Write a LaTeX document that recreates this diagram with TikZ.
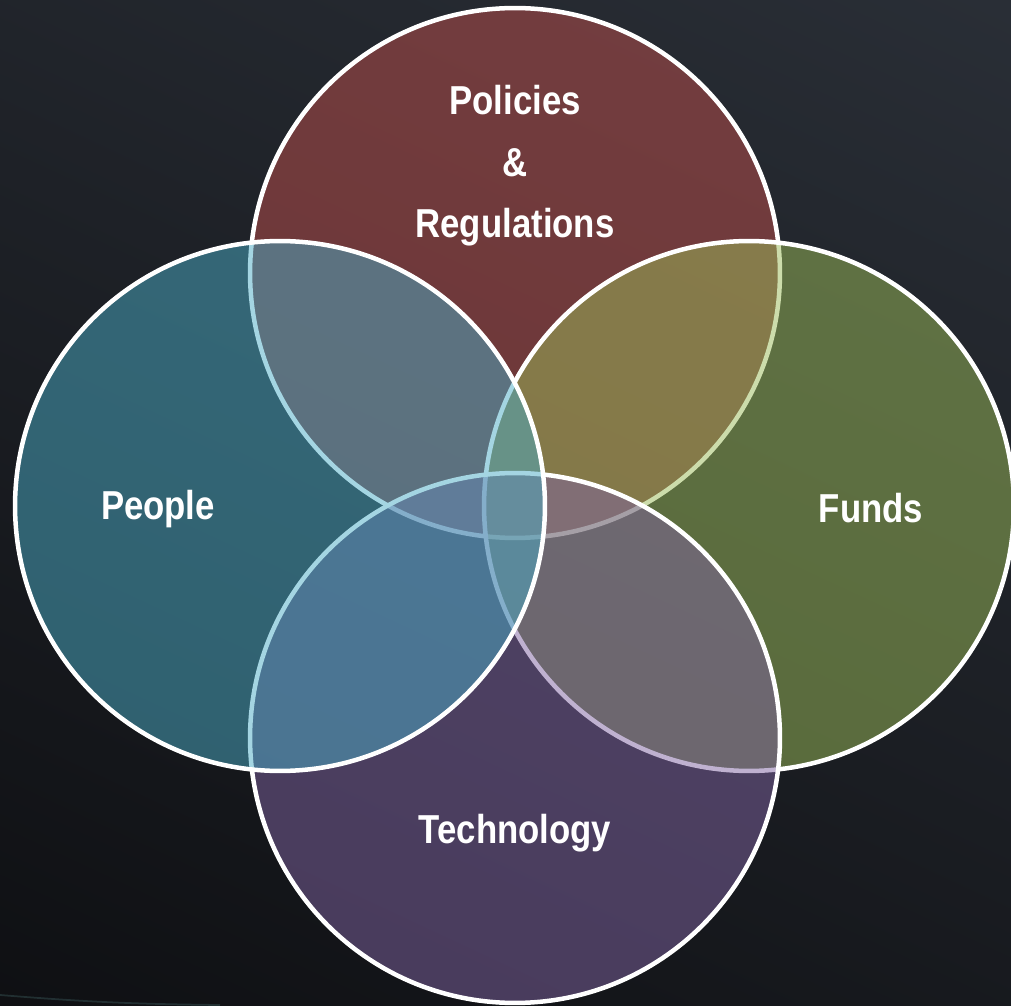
\documentclass[tikz,border=0pt]{standalone}
\usepackage{fontspec}
\newfontfamily\lblfont[FakeStretch=0.86]{Liberation Sans}
\definecolor{bgtop}{HTML}{2A2F37}
\definecolor{bgbot}{HTML}{0E0F12}
\definecolor{policyred}{HTML}{C0504D}
\definecolor{fundgreen}{HTML}{9BBB59}
\definecolor{techpurple}{HTML}{8064A2}
\definecolor{peopleblue}{HTML}{4BACC6}
\definecolor{streak}{HTML}{2E4446}
\begin{document}
\begin{tikzpicture}[x=0.02cm,y=-0.02cm,
  setcircle/.style={circle, inner sep=0pt, minimum size=10.6cm,
    draw=white, line width=0.09cm, fill opacity=0.5},
  setlabel/.style={text=white, font=\lblfont\bfseries\fontsize{23}{35}\selectfont,
    align=center}]
  % backdrop
  \useasboundingbox (0,0) rectangle (1011,1006);
  \shade[top color=bgtop, bottom color=bgbot, shading angle=-25]
    (-200,-200) rectangle (1211,1206);
  \draw[streak, line width=1pt, opacity=0.6] (0,995) to[bend right=2] (220,1005);
  % the four sets, later ones tint the earlier outlines
  \node[setcircle, fill=policyred]  (policies) at (515,273) {};
  \node[setcircle, fill=fundgreen]  (funds)    at (749,506) {};
  \node[setcircle, fill=techpurple] (tech)     at (515,738) {};
  \node[setcircle, fill=peopleblue] (people)   at (280,506) {};
  % set names
  \node[setlabel] (lpolicies) at (515,166) {Policies\\\&\\Regulations};
  \node[setlabel] (lpeople)   at (158,509) {People};
  \node[setlabel] (lfunds)    at (871,508) {Funds};
  \node[setlabel] (ltech)     at (515,833) {Technology};
\end{tikzpicture}
\end{document}
